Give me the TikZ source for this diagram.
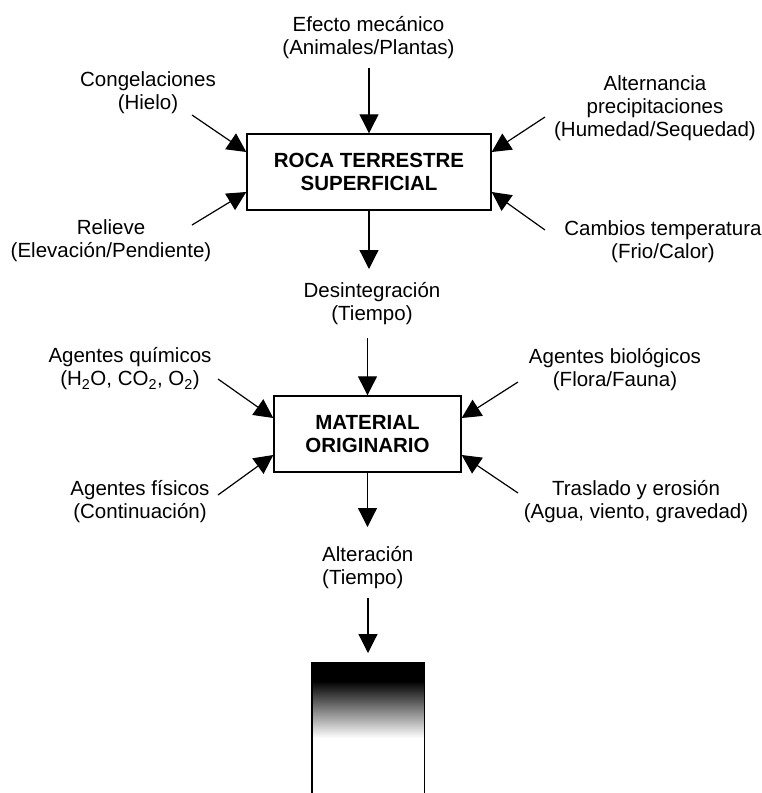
\documentclass[tikz,border=0pt]{standalone}
\usepackage{fontspec}
\setmainfont{Liberation Sans}
\usetikzlibrary{arrows.meta}

\begin{document}
\begin{tikzpicture}[x=1pt,y=-1pt,
    flecha/.style={-{Triangle[length=19pt,width=19pt]},line width=1.2pt},
    caja/.style={draw,line width=1.4pt,minimum height=76pt,inner sep=0pt,align=center,font=\fontsize{20.5}{23}\selectfont\bfseries},
    etiq/.style={align=center,inner sep=0pt,font=\fontsize{20.5}{23}\selectfont}]
  \useasboundingbox (0,0) rectangle (762,793);
  % cajas
  \node [caja,minimum width=244pt] (roca) at (369,172) {ROCA TERRESTRE\\SUPERFICIAL};
  \node [caja,minimum width=187pt] (material) at (367.5,434) {MATERIAL\\ORIGINARIO};
  \node [minimum width=112pt,minimum height=130pt,inner sep=0pt,anchor=north] (perfil) at (368,663) {};
  % textos
  \node [etiq] (efecto) at (368.5,38) {Efecto mecánico\\(Animales/Plantas)};
  \node [etiq] (congel) at (148,93) {Congelaciones\\(Hielo)};
  \node [etiq] (relieve) at (111,241) {Relieve\\(Elevación/Pendiente)};
  \node [etiq] (altern) at (655,108) {Alternancia\\precipitaciones\\(Humedad/Sequedad)};
  \node [etiq] (cambios) at (663,242) {Cambios temperatura\\(Frio/Calor)};
  \node [etiq] (desint) at (372,304) {Desintegración\\(Tiempo)};
  \node [etiq] (quimic) at (130,369) {Agentes químicos\\(H\textsubscript{2}O, CO\textsubscript{2}, O\textsubscript{2})};
  \node [etiq] (fisic) at (140,502) {Agentes físicos\\(Continuación)};
  \node [etiq] (biolog) at (615,370) {Agentes biológicos\\(Flora/Fauna)};
  \node [etiq] (trasl) at (636,502) {Traslado y erosión\\(Agua, viento, gravedad)};
  \node [etiq,align=left,anchor=west] (alter) at (322,568) {Alteración\\(Tiempo)};
  % puntos de partida
  \coordinate (e1) at (369,68);
  \coordinate (e2) at (192,115);
  \coordinate (e3) at (192,225);
  \coordinate (e4) at (545,117);
  \coordinate (e5) at (545,230);
  \coordinate (d1) at (369,269);
  \coordinate (d2) at (367.5,338);
  \coordinate (m1) at (218,379);
  \coordinate (m2) at (218,495);
  \coordinate (m3) at (518,382);
  \coordinate (m4) at (518,493);
  \coordinate (a1) at (367.5,527);
  \coordinate (a2) at (368,598);
  % flechas
  \draw [flecha] (e1) -- (roca);
  \draw [flecha] (e2) -- ([yshift=20pt]roca.west);
  \draw [flecha] (e3) -- ([yshift=-20pt]roca.west);
  \draw [flecha] (e4) -- ([yshift=20pt]roca.east);
  \draw [flecha] (e5) -- ([yshift=-20pt]roca.east);
  \draw [flecha] (roca) -- (d1);
  \draw [flecha] (d2) -- (material);
  \draw [flecha] (m1) -- ([yshift=16pt]material.west);
  \draw [flecha] (m2) -- ([yshift=-21pt]material.west);
  \draw [flecha] (m3) -- ([yshift=16pt]material.east);
  \draw [flecha] (m4) -- ([yshift=-21pt]material.east);
  \draw [flecha] (material) -- (a1);
  \draw [flecha] (a2) -- ([yshift=10pt]perfil.north);
  % perfil del suelo
  \fill [black] (perfil.north west) rectangle ([yshift=-18pt]perfil.north east);
  \shade [top color=black,bottom color=white] ([yshift=-18pt]perfil.north west) rectangle ([yshift=-75pt]perfil.north east);
  \draw [line width=1.4pt] (perfil.south west) -- (perfil.north west) -- (perfil.north east) -- (perfil.south east);
\end{tikzpicture}
\end{document}
